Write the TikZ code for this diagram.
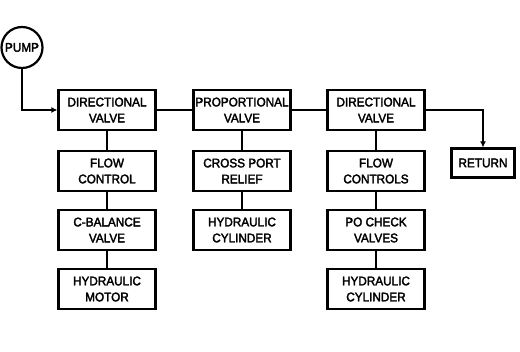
\documentclass[tikz,border=0pt]{standalone}
\usepackage{fontspec}
\setmainfont{Liberation Sans}
\newfontfamily\boxfont[FakeBold=2.5, FakeStretch=0.94]{Liberation Sans}
\usetikzlibrary{arrows.meta,positioning}

\begin{document}
\begin{tikzpicture}[x=1pt, y=-1pt, line width=2.2pt, >={Latex[length=6pt,width=6pt]},
    unit/.style={draw, fill=white, minimum width=97pt, minimum height=40pt, inner sep=1pt,
                 align=center, font=\boxfont\fontsize{12.5}{16}\selectfont},
    pipe/.style={draw}]
  \useasboundingbox (0,0) rectangle (520,352);
  % pump
  \node[draw, circle, minimum size=41pt, inner sep=0pt, font=\boxfont\fontsize{12.5}{16}\selectfont] (pump) at (22,47.5) {PUMP};
  % first branch
  \node[unit] (dvA) at (107,110) {DIRECTIONAL\\VALVE};
  \node[unit] (fcA) at (107,171) {FLOW\\CONTROL};
  \node[unit] (cb) at (107,230) {C-BALANCE\\VALVE};
  \node[unit] (motor) at (107,289) {HYDRAULIC\\MOTOR};
  % second branch
  \node[unit] (pv) at (242,110) {PROPORTIONAL\\VALVE};
  \node[unit] (cpr) at (242,171) {CROSS PORT\\RELIEF};
  \node[unit] (cylA) at (242,230) {HYDRAULIC\\CYLINDER};
  % third branch
  \node[unit] (dvB) at (376,110) {DIRECTIONAL\\VALVE};
  \node[unit] (fcB) at (376,171) {FLOW\\CONTROLS};
  \node[unit] (po) at (376,230) {PO CHECK\\VALVES};
  \node[unit] (cylB) at (376,289) {HYDRAULIC\\CYLINDER};
  % return
  \node[unit, minimum width=63pt, minimum height=29pt] (ret) at (483,163) {RETURN};
  % pipes
  \draw[->] (pump.south) |- (dvA.west);
  \draw (dvA.east) -- (pv.west);
  \draw (pv.east) -- (dvB.west);
  \draw[->] (dvB.east) -| (ret.north);
  \draw (dvA) -- (fcA) (fcA) -- (cb) (cb) -- (motor);
  \draw (pv) -- (cpr) (cpr) -- (cylA);
  \draw (dvB) -- (fcB) (fcB) -- (po) (po) -- (cylB);
\end{tikzpicture}
\end{document}
